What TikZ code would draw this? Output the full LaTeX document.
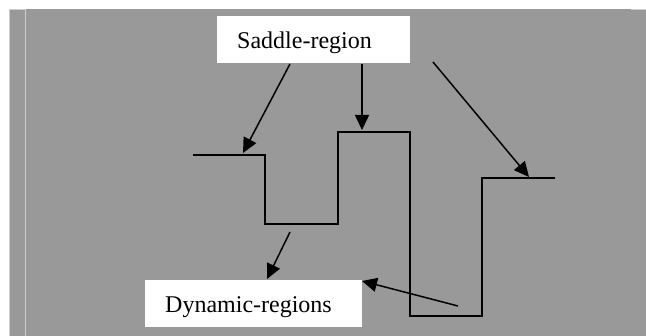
\documentclass[tikz,border=0pt]{standalone}
\usepackage{fontspec}
\setmainfont{Liberation Serif}
\usetikzlibrary{arrows.meta,calc}
\definecolor{bggray}{RGB}{153,153,153}
\definecolor{edgegray}{RGB}{205,205,205}
\begin{document}
\begin{tikzpicture}[x=1pt,y=-1pt,
  lbl/.style={fill=white,draw=none,inner xsep=20pt,inner ysep=0pt,align=left,minimum height=47pt,
    text height=20pt,text depth=3pt,font=\fontsize{24}{28}\selectfont,anchor=north west},
  arr/.style={line width=1.5pt,-{Triangle[length=15pt,width=14pt]}},
  stair/.style={line width=1.5pt}]
\useasboundingbox (0,0) rectangle (646,336);
\fill[white] (0,0) rectangle (646,336);
\fill[bggray] (9,9) rectangle (646,336);
\draw[line width=1pt,edgegray] (9.5,336) -- (9.5,9.5) -- (25.5,9.5) (25.5,9.5) -- (25.5,336);
\draw[line width=1pt,edgegray] (631,9.5) -- (646,9.5);
\node[lbl,text width=153pt] (sad) at (217,16) {Saddle-region};
\node[lbl,text width=177pt] (dyn) at (145,280) {Dynamic-regions};
\coordinate (p0) at (193,155);
\coordinate (p1) at (265,155);
\coordinate (p2) at (265,224);
\coordinate (p3) at (338,224);
\coordinate (p4) at (338,132);
\coordinate (p5) at (410,132);
\coordinate (p6) at (410,316);
\coordinate (p7) at (482,316);
\coordinate (p8) at (482,178);
\coordinate (p9) at (555,178);
\draw[stair] (p0) -- (p1) -- (p2) -- (p3) -- (p4) -- (p5) -- (p6) -- (p7) -- (p8) -- (p9);
\coordinate (s1) at (290,64);
\coordinate (s2) at (362,64);
\coordinate (s3) at (433,62);
\coordinate (t1) at (243,153);
\coordinate (t2) at (362,130);
\coordinate (t3) at (529,177);
\coordinate (d1) at (290,232);
\coordinate (d2) at (458,306);
\coordinate (e1) at (267,279);
\coordinate (e2) at (362,281);
\draw[arr] (s1) -- (t1);
\draw[arr] (s2) -- (t2);
\draw[arr] (s3) -- (t3);
\draw[arr] (d1) -- (e1);
\draw[arr] (d2) -- (e2);
\end{tikzpicture}
\end{document}
